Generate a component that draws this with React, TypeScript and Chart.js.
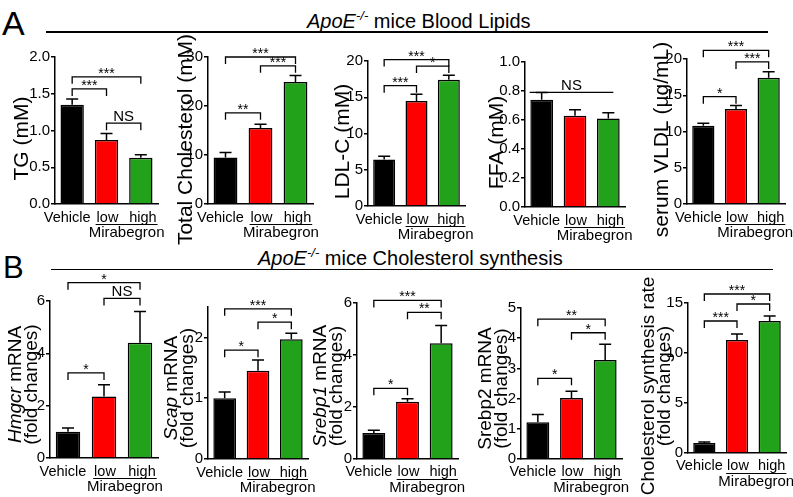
import React, { useEffect, useRef } from 'react';
import { Chart, registerables } from 'chart.js';
Chart.register(...registerables);

const FONT = "'Liberation Sans', Arial, Helvetica, sans-serif";
const W = 793;
const H = 497;

const groups = ['Vehicle', 'low', 'high'];
const groupName = 'Mirabegron';
const barColors = ['#000000', '#ff0000', '#22a11b'];

// ---- Panel A: blood lipids ----
const tgMean = [1.35, 0.87, 0.63];
const tgSem = [0.08, 0.09, 0.04];
const tgTicks = [0, 0.5, 1.0, 1.5, 2.0];

const tcMean = [9.5, 15.5, 24.9];
const tcSem = [1.0, 0.8, 1.3];
const tcTicks = [0, 10, 20, 30];

const ldlMean = [6.4, 14.5, 17.4];
const ldlSem = [0.45, 0.9, 0.65];
const ldlTicks = [0, 5, 10, 15, 20];

const ffaMean = [0.74, 0.63, 0.61];
const ffaSem = [0.05, 0.04, 0.04];
const ffaTicks = [0, 0.2, 0.4, 0.6, 0.8, 1.0];

const vldlMean = [10.8, 13.1, 17.4];
const vldlSem = [0.35, 0.5, 0.85];
const vldlTicks = [0, 5, 10, 15, 20];

// ---- Panel B: cholesterol synthesis ----
const hmgcrMean = [1.0, 2.35, 4.4];
const hmgcrSem = [0.15, 0.45, 1.2];
const hmgcrTicks = [0, 2, 4, 6];

const scapMean = [1.0, 1.45, 1.97];
const scapSem = [0.1, 0.18, 0.1];
const scapTicks = [0, 1, 2];

const srebp1Mean = [1.0, 2.2, 4.45];
const srebp1Sem = [0.11, 0.12, 0.68];
const srebp1Ticks = [0, 2, 4, 6];

const srebp2Mean = [1.22, 2.02, 3.28];
const srebp2Sem = [0.25, 0.22, 0.52];
const srebp2Ticks = [0, 1, 2, 3, 4, 5];

const rateMean = [1.0, 11.3, 13.2];
const rateSem = [0.1, 0.6, 0.5];
const rateTicks = [0, 5, 10, 15];

type Seg = { t: string; i?: boolean };
type Bracket = { a: number; b: number; y: number; label: string; flat?: boolean };
type Panel = {
  means: number[];
  sems: number[];
  ticks: number[];
  max: number;
  decimals: number;
  title: Seg[][];
  titleSize: number;
  titleOffsets: number[];
  titleDy: number;
  brackets: Bracket[];
  overline?: boolean;
  g: { left: number; right: number; top: number; bottom: number };
};

const panels: Panel[] = [
  {
    means: tgMean, sems: tgSem, ticks: tgTicks, max: 2.0, decimals: 1,
    title: [[{ t: 'TG (mM)' }]], titleSize: 21, titleOffsets: [33], titleDy: 8,
    brackets: [
      { a: 0, b: 2, y: 1.73, label: '***' },
      { a: 0, b: 1, y: 1.565, label: '***' },
      { a: 1, b: 2, y: 1.1, label: 'NS' },
    ],
    g: { left: 55, right: 158, top: 57, bottom: 204 },
  },
  {
    means: tcMean, sems: tcSem, ticks: tcTicks, max: 30, decimals: 0,
    title: [[{ t: 'Total Cholesterol (mM)' }]], titleSize: 21, titleOffsets: [22], titleDy: 9,
    brackets: [
      { a: 0, b: 2, y: 30.0, label: '***' },
      { a: 1, b: 2, y: 28.2, label: '***' },
      { a: 0, b: 1, y: 18.6, label: '**' },
    ],
    g: { left: 208, right: 313, top: 57, bottom: 204 },
  },
  {
    means: ldlMean, sems: ldlSem, ticks: ldlTicks, max: 20, decimals: 0,
    title: [[{ t: 'LDL-C (mM)' }]], titleSize: 21, titleOffsets: [25], titleDy: 8,
    brackets: [
      { a: 0, b: 2, y: 20.2, label: '***' },
      { a: 1, b: 2, y: 19.3, label: '*' },
      { a: 0, b: 1, y: 16.6, label: '***' },
    ],
    g: { left: 368, right: 465, top: 61, bottom: 206 },
  },
  {
    means: ffaMean, sems: ffaSem, ticks: ffaTicks, max: 1.0, decimals: 1,
    title: [[{ t: 'FFA (mM)' }]], titleSize: 21, titleOffsets: [28], titleDy: 8,
    brackets: [{ a: 0, b: 2, y: 0.79, label: 'NS', flat: true }],
    g: { left: 525, right: 625, top: 62, bottom: 207 },
  },
  {
    means: vldlMean, sems: vldlSem, ticks: vldlTicks, max: 20, decimals: 0,
    title: [[{ t: 'serum VLDL (\u00b5g/mL)' }]], titleSize: 21, titleOffsets: [25], titleDy: 8,
    brackets: [
      { a: 0, b: 2, y: 21.2, label: '***' },
      { a: 1, b: 2, y: 19.6, label: '***' },
      { a: 0, b: 1, y: 14.8, label: '*' },
    ],
    g: { left: 687, right: 785, top: 59, bottom: 204 },
  },
  {
    means: hmgcrMean, sems: hmgcrSem, ticks: hmgcrTicks, max: 6, decimals: 0,
    title: [[{ t: 'Hmgcr', i: true }, { t: ' mRNA' }], [{ t: '(fold changes)' }]],
    titleSize: 19, titleOffsets: [34, 18], titleDy: 5,
    brackets: [
      { a: 0, b: 2, y: 6.7, label: '*' },
      { a: 1, b: 2, y: 6.1, label: 'NS' },
      { a: 0, b: 1, y: 3.25, label: '*' },
    ],
    g: { left: 50, right: 158, top: 301, bottom: 458 },
  },
  {
    means: scapMean, sems: scapSem, ticks: scapTicks, max: 2.5, decimals: 0,
    title: [[{ t: 'Scap', i: true }, { t: ' mRNA' }], [{ t: '(fold changes)' }]],
    titleSize: 19, titleOffsets: [36, 20], titleDy: 5,
    brackets: [
      { a: 0, b: 2, y: 2.47, label: '***' },
      { a: 1, b: 2, y: 2.25, label: '*' },
      { a: 0, b: 1, y: 1.79, label: '*' },
    ],
    g: { left: 208, right: 308, top: 307, bottom: 459 },
  },
  {
    means: srebp1Mean, sems: srebp1Sem, ticks: srebp1Ticks, max: 6, decimals: 0,
    title: [[{ t: 'Srebp1', i: true }, { t: ' mRNA' }], [{ t: '(fold changes)' }]],
    titleSize: 19, titleOffsets: [36, 20], titleDy: 5, overline: true,
    brackets: [
      { a: 0, b: 2, y: 6.1, label: '***' },
      { a: 1, b: 2, y: 5.64, label: '**' },
      { a: 0, b: 1, y: 2.72, label: '*' },
    ],
    g: { left: 357, right: 458, top: 303, bottom: 459 },
  },
  {
    means: srebp2Mean, sems: srebp2Sem, ticks: srebp2Ticks, max: 5, decimals: 0,
    title: [[{ t: 'Srebp2 mRNA' }], [{ t: '(fold changes)' }]],
    titleSize: 19, titleOffsets: [35, 19], titleDy: 5, overline: true,
    brackets: [
      { a: 0, b: 2, y: 4.63, label: '**' },
      { a: 1, b: 2, y: 4.18, label: '*' },
      { a: 0, b: 1, y: 2.67, label: '*' },
    ],
    g: { left: 521, right: 622, top: 308, bottom: 459 },
  },
  {
    means: rateMean, sems: rateSem, ticks: rateTicks, max: 15, decimals: 0,
    title: [[{ t: 'Cholesterol synthesis rate' }], [{ t: '(fold changes)' }]],
    titleSize: 19, titleOffsets: [39, 23], titleDy: 8, overline: true,
    brackets: [
      { a: 0, b: 2, y: 15.9, label: '***' },
      { a: 1, b: 2, y: 14.9, label: '*' },
      { a: 0, b: 1, y: 13.2, label: '***' },
    ],
    g: { left: 688, right: 786, top: 303, bottom: 453 },
  },
];

const YW = 40;
const XH = 30;
const labelShift = [-5, 1, 2];

function makeOverlay(p: Panel) {
  return {
    id: 'overlay',
    afterDraw(chart: any) {
      const ctx: CanvasRenderingContext2D = chart.ctx;
      const xS = chart.scales.x;
      const yS = chart.scales.y;
      const area = chart.chartArea;
      ctx.save();
      ctx.strokeStyle = '#000';
      ctx.fillStyle = '#000';
      // error bars
      ctx.lineWidth = 1.5;
      p.means.forEach((m, i) => {
        const x = xS.getPixelForValue(i);
        const y0 = yS.getPixelForValue(m);
        const y1 = yS.getPixelForValue(m + p.sems[i]);
        ctx.beginPath();
        ctx.moveTo(x, y0);
        ctx.lineTo(x, y1);
        ctx.moveTo(x - 6, y1);
        ctx.lineTo(x + 6, y1);
        ctx.stroke();
      });
      // brackets
      ctx.lineWidth = 1.3;
      p.brackets.forEach((b) => {
        let xa = xS.getPixelForValue(b.a);
        let xb = xS.getPixelForValue(b.b);
        const y = yS.getPixelForValue(b.y);
        ctx.beginPath();
        if (b.flat) {
          xa -= 12;
          xb += 5;
          ctx.moveTo(xa, y);
          ctx.lineTo(xb, y);
        } else {
          ctx.moveTo(xa, y + 7);
          ctx.lineTo(xa, y);
          ctx.lineTo(xb, y);
          ctx.lineTo(xb, y + 7);
        }
        ctx.stroke();
        ctx.textAlign = 'center';
        ctx.textBaseline = 'alphabetic';
        if (b.label === 'NS') {
          ctx.font = `15px ${FONT}`;
          ctx.fillText(b.label, (xa + xb) / 2, y - 2);
        } else {
          ctx.font = `14px ${FONT}`;
          ctx.fillText(b.label, (xa + xb) / 2, y + 1);
        }
      });
      // category labels
      ctx.font = `14.5px ${FONT}`;
      ctx.textAlign = 'center';
      ctx.textBaseline = 'alphabetic';
      const base = area.bottom + (p.overline ? 16.5 : 18);
      const cx = groups.map((_, i) => xS.getPixelForValue(i) + labelShift[i]);
      groups.forEach((gname, i) => ctx.fillText(gname, cx[i], base));
      const wl = ctx.measureText(groups[1]).width;
      const wh = ctx.measureText(groups[2]).width;
      const x1 = cx[1] - wl / 2 - 1;
      const x2 = cx[2] + wh / 2 + 1;
      const ly = area.bottom + 20.5;
      ctx.lineWidth = 1.2;
      ctx.beginPath();
      ctx.moveTo(x1, ly);
      ctx.lineTo(x2, ly);
      ctx.stroke();
      ctx.font = `15px ${FONT}`;
      ctx.textBaseline = 'middle';
      ctx.fillText(groupName, (x1 + x2) / 2, area.bottom + 29);
      // y title
      const cy = (area.top + area.bottom) / 2 + p.titleDy;
      p.title.forEach((line, li) => {
        const tx = area.left - p.titleOffsets[li];
        ctx.save();
        ctx.translate(tx, cy);
        ctx.rotate(-Math.PI / 2);
        ctx.textBaseline = 'middle';
        ctx.textAlign = 'left';
        const fontFor = (s: Seg) => `${s.i ? 'italic ' : ''}${p.titleSize}px ${FONT}`;
        let total = 0;
        line.forEach((s) => {
          ctx.font = fontFor(s);
          total += ctx.measureText(s.t).width;
        });
        let x = -total / 2;
        line.forEach((s) => {
          ctx.font = fontFor(s);
          ctx.fillText(s.t, x, 0);
          x += ctx.measureText(s.t).width;
        });
        ctx.restore();
      });
      ctx.restore();
    },
  };
}

function PanelChart({ p }: { p: Panel }) {
  const ref = useRef<HTMLCanvasElement | null>(null);
  useEffect(() => {
    if (!ref.current) return;
    const chart = new Chart(ref.current, {
      type: 'bar',
      data: {
        labels: groups,
        datasets: [
          {
            data: p.means,
            backgroundColor: barColors,
            borderColor: '#000',
            borderWidth: 1.5,
            barPercentage: 0.68,
            categoryPercentage: 1,
          },
        ],
      },
      options: {
        responsive: false,
        animation: false,
        devicePixelRatio: 1,
        layout: {
          padding: {
            left: p.g.left - YW,
            right: W - p.g.right,
            top: p.g.top,
            bottom: H - p.g.bottom - XH,
          },
        },
        plugins: {
          legend: { display: false },
          tooltip: { enabled: false },
          title: { display: false },
        },
        scales: {
          x: {
            grid: { display: false, drawTicks: false },
            border: { display: true, color: '#000', width: 1.5 },
            ticks: { display: false },
            afterFit: (s: any) => {
              s.height = XH;
            },
          },
          y: {
            min: 0,
            max: p.max,
            grid: {
              drawOnChartArea: false,
              drawTicks: true,
              tickLength: 4,
              color: '#000',
              lineWidth: 1.5,
            },
            border: { display: true, color: '#000', width: 1.5 },
            ticks: {
              color: '#000',
              font: { size: 15, family: FONT },
              padding: 1,
              callback: (v: any) => Number(v).toFixed(p.decimals),
            },
            afterBuildTicks: (s: any) => {
              s.ticks = p.ticks.map((v) => ({ value: v }));
            },
            afterFit: (s: any) => {
              s.width = YW;
            },
          },
        },
      } as any,
      plugins: [makeOverlay(p)],
    });
    return () => chart.destroy();
  }, [p]);
  return (
    <canvas
      ref={ref}
      width={W}
      height={H}
      style={{ position: 'absolute', left: 0, top: 0, width: W, height: H }}
    />
  );
}

const headStyle: React.CSSProperties = {
  position: 'absolute',
  fontFamily: FONT,
  color: '#000',
  lineHeight: 1,
  whiteSpace: 'nowrap',
  margin: 0,
};

function Heading({ left, top, rest }: { left: number; top: number; rest: string }) {
  return (
    <div style={{ ...headStyle, left, top, fontSize: 20 }}>
      <i>ApoE</i>
      <sup style={{ fontSize: 13, fontStyle: 'italic', verticalAlign: 0, position: 'relative', top: -8 }}>-/-</sup>
      {rest}
    </div>
  );
}

export default function App() {
  return (
    <div style={{ position: 'absolute', left: 0, top: 0, width: W, height: H, background: '#fff', overflow: 'hidden' }}>
      <div style={{ ...headStyle, left: 2, top: 6, fontSize: 34 }}>A</div>
      <div style={{ ...headStyle, left: 3, top: 252, fontSize: 31 }}>B</div>
      <Heading left={307} top={11} rest=" mice Blood Lipids" />
      <Heading left={258} top={248} rest=" mice Cholesterol synthesis" />
      <div style={{ position: 'absolute', left: 46, top: 31, width: 722, height: 1.5, background: '#000' }} />
      <div style={{ position: 'absolute', left: 51, top: 268.5, width: 722, height: 1.5, background: '#000' }} />
      {panels.map((p, i) => (
        <PanelChart key={i} p={p} />
      ))}
    </div>
  );
}
